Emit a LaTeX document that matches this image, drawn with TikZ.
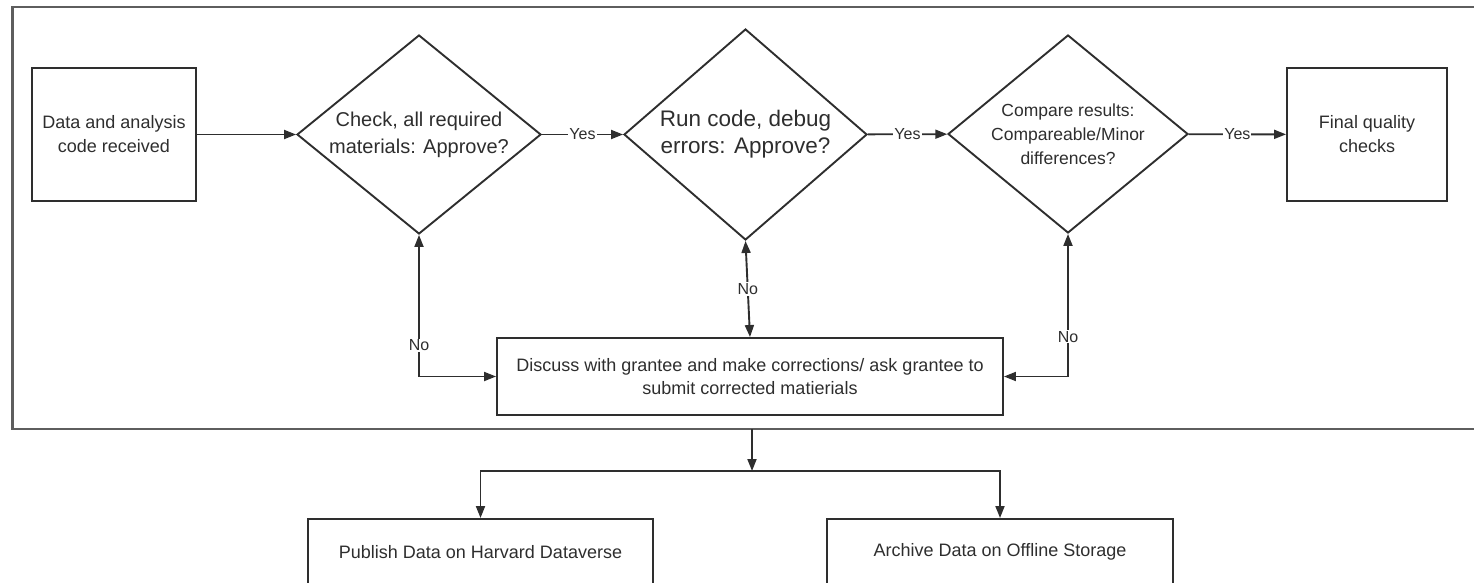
\documentclass[tikz,border=0pt]{standalone}
\usepackage{fontspec}
\setmainfont{Liberation Sans}
\usetikzlibrary{shapes.geometric,arrows.meta}
\tikzset {>={Triangle[length=12pt,width=9pt]}}
\definecolor{ink}{HTML}{2E2E2E}
\definecolor{rim}{HTML}{5E5E5E}

\begin{document}
\begin{tikzpicture}[x=1pt,y=-1pt,
  every node/.style={text=ink,font=\fontsize{18}{24}\selectfont},
  box/.style={draw=ink,line width=1.9pt,align=center,inner sep=0pt},
  decide/.style={draw=ink,line width=1.9pt,diamond,aspect=1.2,align=center,inner sep=0pt},
  tag/.style={fill=white,inner sep=1pt,font=\fontsize{16}{16}\selectfont},
  link/.style={draw=ink,line width=1.9pt}]
\useasboundingbox (0,0) rectangle (1474,583);
\draw[rim,line width=2.6pt] (1474,7) -- (12.5,7) -- (12.5,429) -- (1474,429);
\node[box,minimum width=164,minimum height=133] (recv) at (114,134.5) {Data and analysis\\code received};
\node[decide,minimum width=244,minimum height=199,font=\fontsize{20}{27}\selectfont] (chk) at (419,134.5) {Check, all required\\materials: Approve?};
\node[decide,minimum width=243,minimum height=211,font=\fontsize{22.5}{27}\selectfont] (run) at (745.5,134.5) {Run code, debug\\errors: Approve?};
\node[decide,minimum width=240,minimum height=198,font=\fontsize{17.5}{24}\selectfont] (cmp) at (1068,134) {Compare results:\\Compareable/Minor\\differences?};
\node[box,minimum width=160,minimum height=133] (qc) at (1367,134.5) {Final quality\\checks};
\node[box,minimum width=506,minimum height=77,font=\fontsize{18}{23}\selectfont] (fix) at (750,376.5) {Discuss with grantee and make corrections/ ask grantee to\\submit corrected matierials};
\node[box,anchor=north,minimum width=345,minimum height=66] (pub) at (480.5,518) {Publish Data on Harvard Dataverse};
\node[box,anchor=north,minimum width=346,minimum height=66] (arc) at (1000,518) {Archive Data on Offline Storage};
\draw[link,->] (recv) -- (chk);
\draw[link,->] (chk) -- node[tag] {Yes} (run);
\draw[link,->] (run) -- node[tag] {Yes} (cmp);
\draw[link,->] (cmp) -- node[tag] {Yes} (qc);
\draw[link,<->] (chk.south) |- node[tag,pos=0.39] {No} (fix.west);
\draw[link,<->] (run.south) -- node[tag] {No} (fix.north);
\draw[link,<->] (cmp.south) |- node[tag,pos=0.36] {No} (fix.east);
\coordinate (out) at (752,429);
\coordinate (fork) at (752,471);
\draw[link,->] (out) -- (fork);
\draw[link,->] (fork) -| (pub.north);
\draw[link,->] (fork) -| (arc.north);
\end{tikzpicture}
\end{document}
